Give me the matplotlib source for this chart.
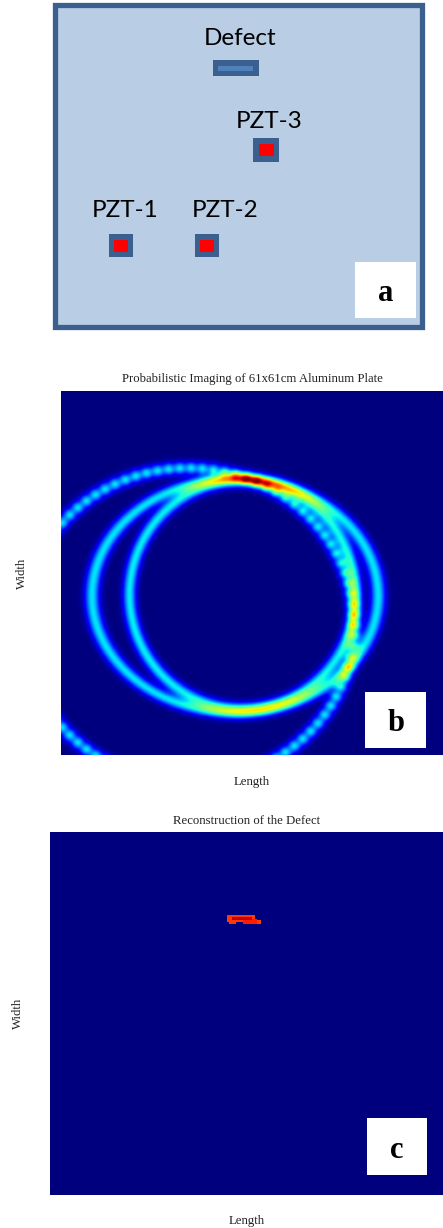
import numpy as np
import matplotlib
matplotlib.use("Agg")
import matplotlib.pyplot as plt
from matplotlib.patches import Rectangle

W, H, DPI = 443, 1228, 100
PLATE_CM = 61

# --- panel b: wave-front rings on the plate, in cm (x, y, radius x, radius y, level, dots)
ring_cx = [20.3, 29.0, 27.8]
ring_cy = [21.7, 26.8, 26.6]
ring_rx = [26.6, 18.1, 22.9]
ring_ry = [26.3, 19.2, 19.6]
ring_level = [0.31, 0.36, 0.35]
ring_dots = [93, 0, 0]

# --- panel c: reconstructed defect, spans in cm (x start, x end, y start, y end, level)
defect_x0 = [27.6, 27.8, 30.0, 32.2, 28.3]
defect_x1 = [31.9, 29.1, 32.3, 32.75, 31.4]
defect_y0 = [45.9, 45.6, 45.6, 45.6, 46.1]
defect_y1 = [47.05, 45.9, 46.4, 46.1, 46.8]
defect_lv = [0.85, 0.85, 0.88, 0.84, 0.93]

# --- labels
title_b = "Probabilistic Imaging of 61x61cm Aluminum Plate"
title_c = "Reconstruction of the Defect"
xlabel = "Length"
ylabel = "Width"
pzt_names = ["PZT-1", "PZT-2", "PZT-3"]

fig = plt.figure(figsize=(W / DPI, H / DPI), dpi=DPI, facecolor="white")
plt.rcParams["font.family"] = "Liberation Serif"


def axes_px(x0, y0, x1, y1):
    return fig.add_axes([x0 / W, 1 - y1 / H, (x1 - x0) / W, (y1 - y0) / H])


def style(ax, title, pad, xpad, ypad):
    ax.set_xticks([])
    ax.set_yticks([])
    for s in ax.spines.values():
        s.set_visible(False)
    ax.set_title(title, fontsize=9.2, pad=pad, color="#222222")
    ax.set_xlabel(xlabel, fontsize=9.2, labelpad=xpad, color="#222222")
    ax.set_ylabel(ylabel, fontsize=9.2, labelpad=ypad, color="#222222")


# panel b
axb = axes_px(61, 391, 443, 755)
n = 420
gx, gy = np.meshgrid(np.linspace(0, PLATE_CM, n), np.linspace(0, PLATE_CM, n))
field = np.zeros_like(gx)
for cx, cy, rx, ry, lv, dots in zip(ring_cx, ring_cy, ring_rx, ring_ry, ring_level, ring_dots):
    rho = np.sqrt(((gx - cx) / rx) ** 2 + ((gy - cy) / ry) ** 2)
    d = (rho - 1) * 0.5 * (rx + ry)
    a = lv * np.exp(-0.5 * (d / 0.75) ** 2)
    if dots:
        a = a * (1 + 0.13 * np.cos(dots * np.arctan2((gy - cy) / ry, (gx - cx) / rx)))
    field += a
axb.imshow(field, cmap="jet", vmin=0, vmax=1, origin="lower", aspect="auto",
           extent=[0, PLATE_CM, 0, PLATE_CM], interpolation="bilinear")
style(axb, title_b, 6.5, 15.3, 24)

# panel c
axc = axes_px(50, 832, 443, 1195)
m = 220
recon = np.zeros((m, m))
cell = PLATE_CM / m
for x0, x1, y0, y1, lv in zip(defect_x0, defect_x1, defect_y0, defect_y1, defect_lv):
    recon[int(y0 / cell):int(y1 / cell), int(x0 / cell):int(x1 / cell)] = lv
axc.imshow(recon, cmap="jet", vmin=0, vmax=1, origin="lower", aspect="auto",
           extent=[0, PLATE_CM, 0, PLATE_CM], interpolation="nearest")
style(axc, title_c, 5.5, 14.6, 19)

# overlay in pixel coordinates: panel a schematic and the letter boxes
ov = fig.add_axes([0, 0, 1, 1], facecolor="none")
ov.set_xlim(0, W)
ov.set_ylim(H, 0)
ov.axis("off")
EDGE = "#3B5F8F"


def rect(x0, y0, x1, y1, fc, ec="none", lw=0):
    ov.add_patch(Rectangle((x0, y0), x1 - x0, y1 - y0, facecolor=fc, edgecolor=ec,
                           linewidth=lw, joinstyle="miter"))


rect(54.7, 4.7, 422.3, 327.3, "#B9CDE5", EDGE, 3.8)
rect(213, 60.3, 258.7, 76, EDGE)
rect(218.3, 65.7, 253.3, 70.7, "#4F81BD")
for x0, y0, w_o, h_o in [(109, 234, 24.3, 23), (195, 234, 24.3, 23), (253.3, 138, 25.7, 23.7)]:
    rect(x0, y0, x0 + w_o, y0 + h_o, EDGE)
    rect(x0 + 5.3, y0 + 5.7, x0 + w_o - 5.3, y0 + h_o - 5.3, "#FF0000")

for txt, x, y in zip(["Defect"] + pzt_names, [240, 125.5, 225, 269], [45, 217, 217, 128]):
    ov.text(x, y, txt, family="Lato", fontsize=17.5, ha="center", va="baseline", color="black")

for letter, x0, y0, x1, y1 in [("a", 355.3, 261.7, 416, 318),
                               ("b", 365.3, 691.7, 426, 748.3),
                               ("c", 367, 1118, 427, 1175)]:
    rect(x0, y0, x1, y1, "white")
    ov.text((x0 + x1) / 2, (y0 + y1) / 2 + 11, letter, family="Liberation Serif",
            fontweight="bold", fontsize=22, ha="center", va="baseline", color="black")

fig.savefig("out.png", dpi=DPI)
